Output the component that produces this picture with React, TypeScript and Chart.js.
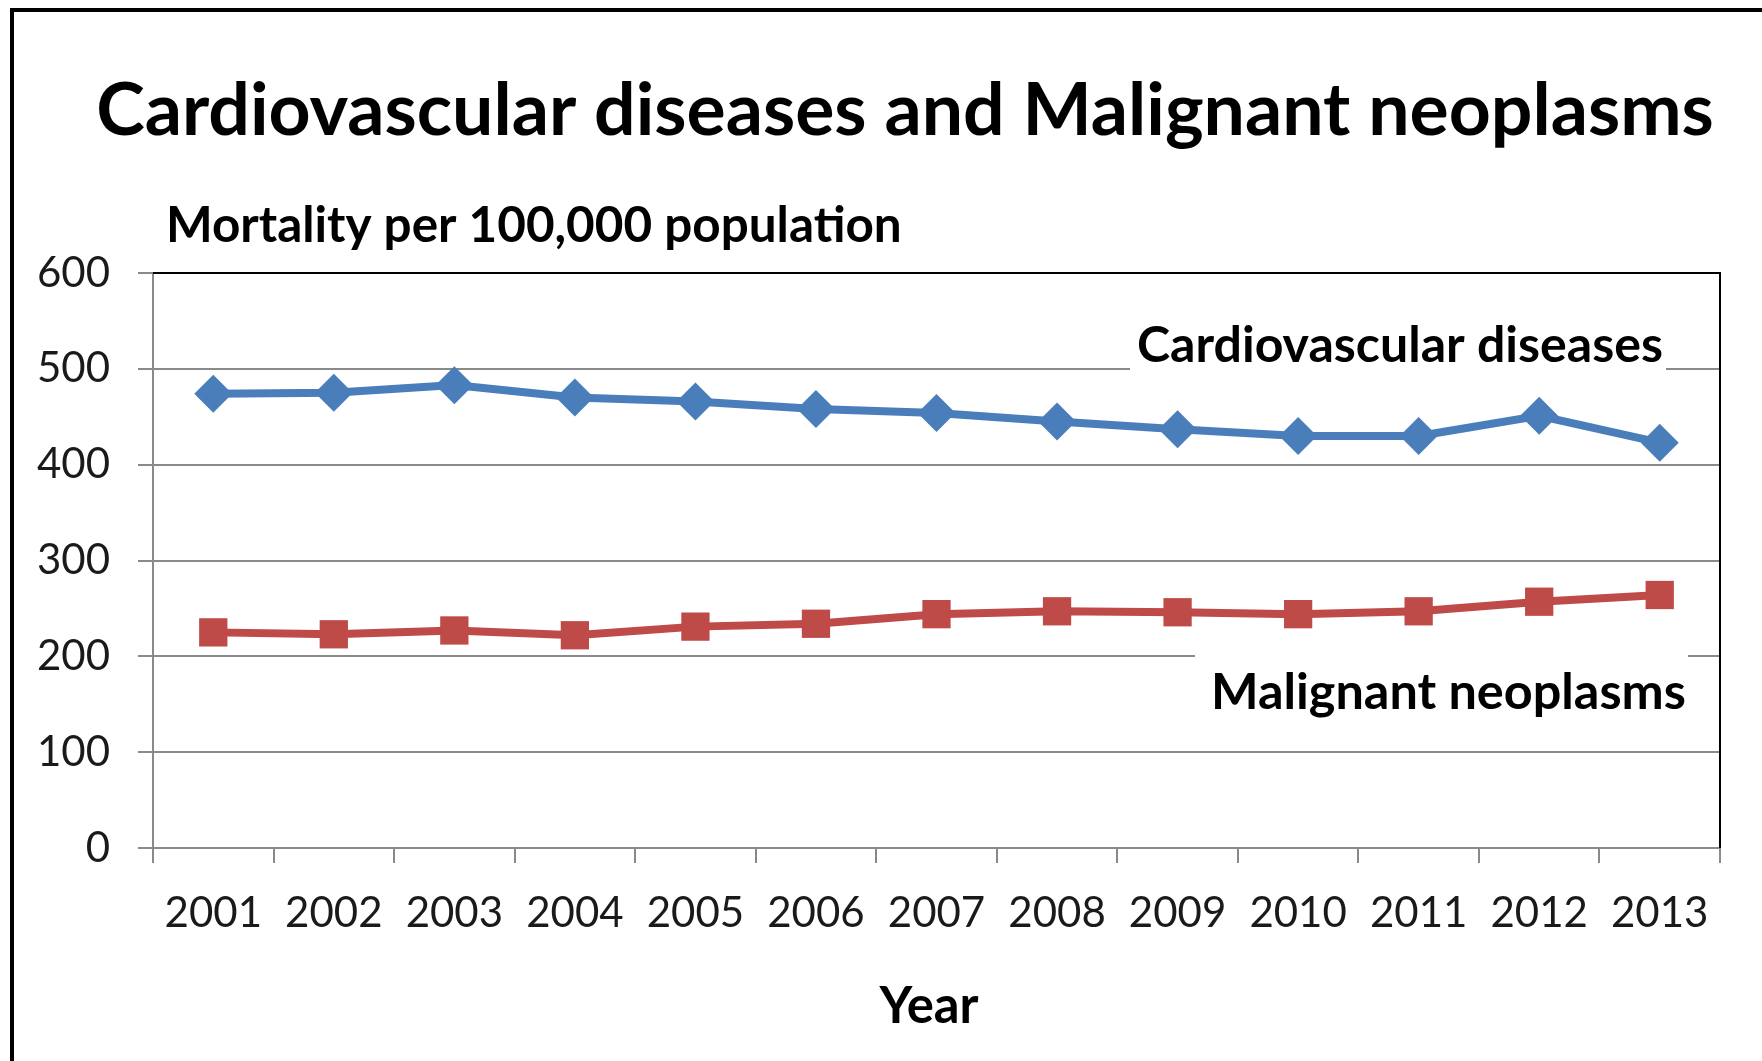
import React, { useEffect, useRef } from "react";
import { Chart, registerables } from "chart.js";

Chart.register(...registerables);

const years = ["2001", "2002", "2003", "2004", "2005", "2006", "2007", "2008", "2009", "2010", "2011", "2012", "2013"];
const cardiovascular = [474, 475, 483, 470, 466, 458, 454, 445, 437, 430, 430, 451, 423];
const neoplasms = [225, 223, 227, 222, 231, 234, 244, 247, 246, 244, 247, 257, 264];
const yTicks = [0, 100, 200, 300, 400, 500, 600];

const TITLE = "Cardiovascular diseases and Malignant neoplasms";
const Y_TITLE = "Mortality per 100,000 population";
const X_TITLE = "Year";
const LABEL_CARDIO = "Cardiovascular diseases";
const LABEL_NEO = "Malignant neoplasms";

const FONT = "Lato, 'Open Sans', sans-serif";
const BLUE = "#4A7EBB";
const RED = "#BE4B48";
const GRID = "#8a8a8a";
const TEXT = "#1a1a1a";

function fitFont(ctx: CanvasRenderingContext2D, text: string, targetWidth: number, weight: string) {
  ctx.font = `${weight} 100px ${FONT}`;
  const w = ctx.measureText(text).width;
  const size = (100 * targetWidth) / w;
  ctx.font = `${weight} ${size}px ${FONT}`;
  return size;
}

const decorPlugin = {
  id: "decor",
  beforeDraw(chart: any) {
    const ctx = chart.ctx as CanvasRenderingContext2D;
    ctx.save();
    ctx.fillStyle = "#ffffff";
    ctx.fillRect(0, 0, chart.width, chart.height);
    // outer frame (left and top edges visible)
    ctx.fillStyle = "#000000";
    ctx.fillRect(10, 8, chart.width, 4);
    ctx.fillRect(10, 8, 4, chart.height);
    // title
    ctx.fillStyle = "#000000";
    ctx.textBaseline = "alphabetic";
    ctx.textAlign = "center";
    fitFont(ctx, TITLE, 1618, "bold");
    ctx.fillText(TITLE, 905, 135);
    // y title
    ctx.textAlign = "left";
    fitFont(ctx, Y_TITLE, 736, "bold");
    ctx.fillText(Y_TITLE, 166, 242);
    // x title
    ctx.textAlign = "center";
    fitFont(ctx, X_TITLE, 99, "bold");
    ctx.fillText(X_TITLE, 929, 1023);
    ctx.restore();
  },
  beforeDatasetsDraw(chart: any) {
    const ctx = chart.ctx as CanvasRenderingContext2D;
    const area = chart.chartArea;
    const y = chart.scales.y;
    ctx.save();
    // plot border top & right
    ctx.strokeStyle = "#000000";
    ctx.lineWidth = 2;
    ctx.beginPath();
    ctx.moveTo(area.left, area.top);
    ctx.lineTo(area.right, area.top);
    ctx.lineTo(area.right, area.bottom);
    ctx.stroke();

    ctx.textBaseline = "alphabetic";
    ctx.textAlign = "left";
    // cardiovascular label
    fitFont(ctx, LABEL_CARDIO, 526, "bold");
    const cRight = area.right - 57;
    const cLeft = cRight - 526;
    const cBase = y.getPixelForValue(500) - 7;
    ctx.fillStyle = "#ffffff";
    ctx.fillRect(cLeft - 7, cBase - 48, 526 + 10, 58);
    ctx.fillStyle = "#000000";
    ctx.fillText(LABEL_CARDIO, cLeft, cBase);
    // neoplasms label
    fitFont(ctx, LABEL_NEO, 475, "bold");
    const nRight = area.right - 34;
    const nLeft = nRight - 475;
    const nBase = y.getPixelForValue(200) + 53;
    ctx.fillStyle = "#ffffff";
    ctx.fillRect(nLeft - 16, nBase - 62, 475 + 18, 76);
    ctx.fillStyle = "#000000";
    ctx.fillText(LABEL_NEO, nLeft, nBase);
    ctx.restore();
  },
};

export default function App() {
  const ref = useRef<HTMLCanvasElement>(null);
  useEffect(() => {
    const chart = new Chart(ref.current as HTMLCanvasElement, {
      type: "line",
      data: {
        labels: years,
        datasets: [
          {
            label: LABEL_CARDIO,
            data: cardiovascular,
            borderColor: BLUE,
            backgroundColor: BLUE,
            borderWidth: 8,
            pointStyle: "rectRot",
            pointRadius: 19,
            pointBorderWidth: 0,
            pointBackgroundColor: BLUE,
            tension: 0,
          },
          {
            label: LABEL_NEO,
            data: neoplasms,
            borderColor: RED,
            backgroundColor: RED,
            borderWidth: 8,
            pointStyle: "rect",
            pointRadius: 20,
            pointBorderWidth: 0,
            pointBackgroundColor: RED,
            tension: 0,
          },
        ],
      },
      options: {
        responsive: false,
        animation: false,
        devicePixelRatio: 1,
        layout: { padding: { left: 0, top: 273, right: 42, bottom: 0 } },
        plugins: {
          legend: { display: false },
          tooltip: { enabled: false },
          title: { display: false },
        },
        scales: {
          x: {
            type: "category",
            offset: true,
            grid: {
              offset: true,
              drawOnChartArea: false,
              drawTicks: true,
              tickLength: 15,
              color: GRID,
              lineWidth: 2,
            },
            border: { display: true, color: GRID, width: 2 },
            ticks: {
              font: { family: FONT, size: 42 },
              color: TEXT,
              padding: 25,
              maxRotation: 0,
              autoSkip: false,
            },
            afterFit: (s: any) => {
              s.height = 213;
            },
          },
          y: {
            min: yTicks[0],
            max: yTicks[yTicks.length - 1],
            afterBuildTicks: (s: any) => {
              s.ticks = yTicks.map((v) => ({ value: v }));
            },
            grid: { color: GRID, lineWidth: 2, tickLength: 15, drawTicks: true },
            border: { display: true, color: GRID, width: 2 },
            ticks: {
              font: { family: FONT, size: 42 },
              color: TEXT,
              padding: 28,
            },
            afterFit: (s: any) => {
              s.width = 153;
            },
          },
        },
      },
      plugins: [decorPlugin],
    } as any);
    return () => chart.destroy();
  }, []);
  return (
    <div style={{ position: "absolute", left: 0, top: 0, width: 1762, height: 1061, background: "#fff" }}>
      <canvas ref={ref} width={1762} height={1061} style={{ display: "block", width: 1762, height: 1061 }} />
    </div>
  );
}
